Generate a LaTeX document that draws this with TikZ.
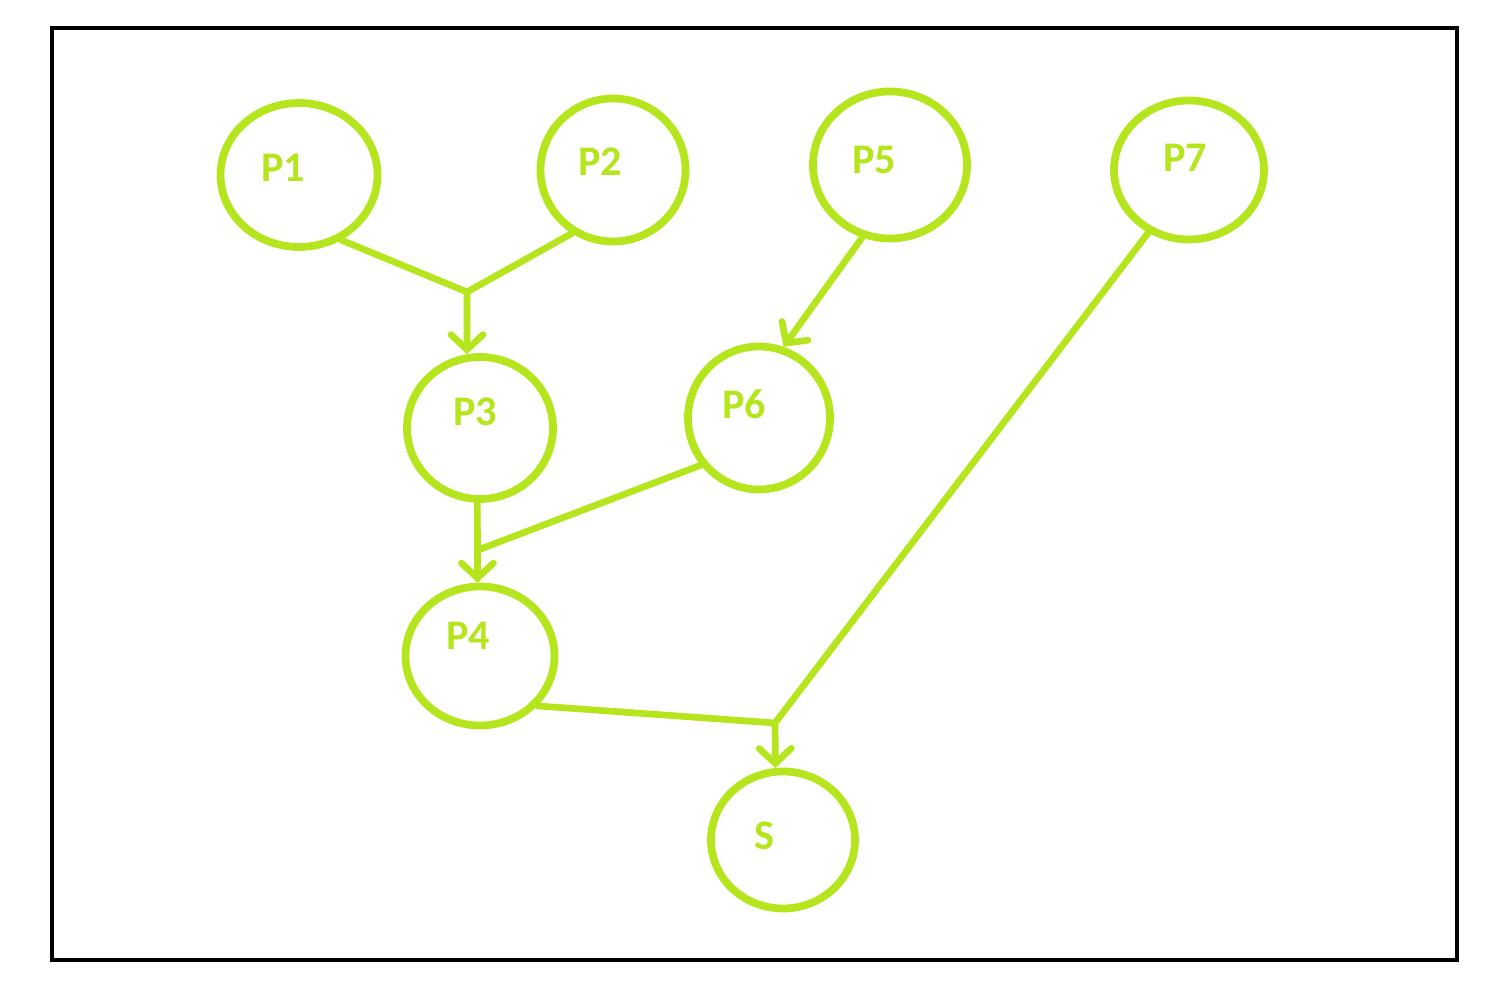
\documentclass[tikz,border=0pt]{standalone}
\usepackage{fontspec}
\setmainfont{Carlito}
\usetikzlibrary{shapes.geometric,positioning,arrows.meta}
\definecolor{lime}{RGB}{181,230,29}

\begin{document}
\begin{tikzpicture}[on grid,
    proc/.style={ellipse,draw=lime,line width=2.2pt,inner sep=0pt},
    lbl/.style={text=lime,font=\fontsize{12}{14}\selectfont\bfseries},
    link/.style={draw=lime,line width=1.9pt,line cap=round},
    tip/.style={-{Straight Barb[length=1.5mm,width=3.2mm,line cap=round]}}]
      \useasboundingbox (0,0) rectangle (15,-10);
      \draw[line width=1.2pt] (0.52,-0.28) rectangle (14.57,-9.60);
      \node[proc,minimum width=1.57cm,minimum height=1.44cm,
            label={[lbl,shift={(-0.16,0.07)}]center:P1}] (p1) at (2.99,-1.75) {};
      \node[proc,minimum width=1.45cm,minimum height=1.43cm,
            label={[lbl,shift={(-0.13,0.08)}]center:P2}] (p2) [above right=0.05cm and 3.14cm of p1] {};
      \node[proc,minimum width=1.54cm,minimum height=1.47cm,
            label={[lbl,shift={(-0.16,0.05)}]center:P5}] (p5) [above right=0.05cm and 2.77cm of p2] {};
      \node[proc,minimum width=1.50cm,minimum height=1.39cm,
            label={[lbl,shift={(-0.04,0.12)}]center:P7}] (p7) [below right=0.05cm and 2.99cm of p5] {};
      \node[proc,minimum width=1.46cm,minimum height=1.42cm,
            label={[lbl,shift={(-0.05,0.16)}]center:P3}] (p3) [below right=2.53cm and 1.81cm of p1] {};
      \node[proc,minimum width=1.42cm,minimum height=1.43cm,
            label={[lbl,shift={(-0.15,0.14)}]center:P6}] (p6) [above right=0.10cm and 2.79cm of p3] {};
      \node[proc,minimum width=1.49cm,minimum height=1.39cm,
            label={[lbl,shift={(-0.12,0.20)}]center:P4}] (p4) [below=2.28cm of p3] {};
      \node[proc,minimum width=1.44cm,minimum height=1.37cm,
            label={[lbl,shift={(-0.19,0.04)}]center:S}] (s) [below right=1.84cm and 3.03cm of p4] {};
      % joins
      \coordinate (j1) at (4.67,-2.92);
      \coordinate (j2) at (4.78,-5.50);
      \coordinate (j3) at (7.75,-7.23);
        \path[link]
        (p1.-57) -- (j1) -- (p2.-123)
        (p6.-141) -- (j2)
        (p4.-41) -- (j3) -- (p7.-123);
        \path[link]
        (j1) edge[tip] (p3.100)
        (p5.-111) edge[tip] (p6.71)
        (p3.-92) edge[tip] (p4.92)
        (j3) edge[tip] (s.96);
    \end{tikzpicture}
\end{document}
